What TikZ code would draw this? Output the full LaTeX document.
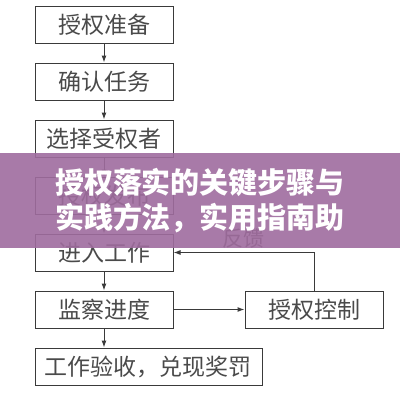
\documentclass[tikz,border=0pt]{standalone}
\usepackage{fontspec}
\newfontfamily\cjk{Noto Sans CJK SC}
\usetikzlibrary{arrows.meta,positioning}
\definecolor{boxline}{HTML}{3A3A3A}
\definecolor{boxtext}{HTML}{4A4A4A}
\definecolor{bannerfill}{HTML}{9F6C9E}
\tikzset{%
  >={Latex[width=5pt,length=7pt]},
  % Specifications for style of nodes:
            base/.style = {rectangle, draw=boxline, line width=1pt,
                           minimum width=138pt, minimum height=37pt,
                           text centered, text=boxtext,
                           font=\cjk\fontsize{23pt}{27pt}\selectfont},
          wide/.style = {base, minimum width=227pt},
        banner/.style = {rectangle, fill=bannerfill, fill opacity=0.9,
                         text opacity=1, text=white, align=center,
                         minimum width=400pt, minimum height=95pt,
                         font=\cjk\bfseries\fontsize{29pt}{35pt}\selectfont},
}
\begin{document}
\begin{tikzpicture}[node distance=57pt, line width=1pt, draw=boxline]
  \useasboundingbox (0,0) rectangle (400pt,-402pt);
  % Specification of nodes (position, etc.)
  \node (prepare) [base] at (104pt,-24.5pt) {授权准备};
  \node (task)    [base, below of=prepare] {确认任务};
  \node (select)  [base, below of=task]    {选择受权者};
  \node (issue)   [base, below of=select]  {授权发布};
  \node (work)    [base, below of=issue]   {进入工作};
  \node (monitor) [base, below of=work]    {监察进度};
  \node (accept)  [wide, below of=monitor, xshift=44.5pt] {工作验收，兑现奖罚};
  \node (control) [base, right=71pt of monitor] {授权控制};
  % Specification of lines between nodes specified above
  \draw[->, boxline] (prepare) -- (task);
  \draw[->, boxline] (task) -- (select);
  \draw[->, boxline] (select) -- (issue);
  \draw[->, boxline] (issue) -- (work);
  \draw[->, boxline] (work) -- (monitor);
  \draw[->, boxline] (monitor.south) -- (monitor.south |- accept.north);
  \draw[->, boxline] (monitor) -- (control);
  \draw[->, boxline] (control.north) |- (work.east)
      node[pos=0.75, above, text=boxtext,
           font=\cjk\fontsize{21pt}{25pt}\selectfont] {反馈};
  % banner over the chart
  \node (title) [banner] at (200pt,-200.5pt) {授权落实的关键步骤与\\实践方法，实用指南助};
\end{tikzpicture}
\end{document}
